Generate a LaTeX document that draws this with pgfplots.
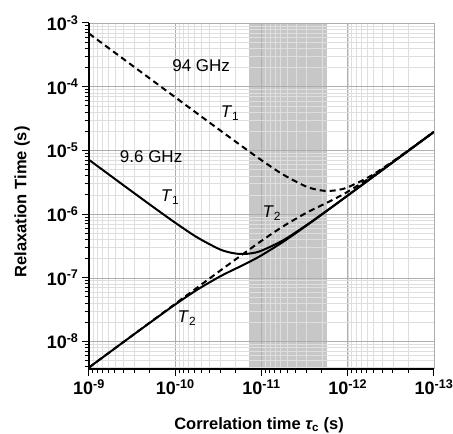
\documentclass[border=0pt]{standalone}
\usepackage{fontspec}
\setmainfont{Liberation Sans}
\usepackage{pgfplots}
\pgfplotsset{compat=1.18}
\begin{document}
\begin{tikzpicture}
\begin{axis}[
  set layers,
  scale only axis, width=345pt, height=346pt,
  xmode=log, ymode=log, x dir=reverse,
  xmin=1e-13, xmax=1e-9, ymin=3.7e-9, ymax=1e-3,
  axis x line*=bottom, axis y line*=left,
  axis line style={line width=1.3pt, -},
  grid=both,
  major grid style={black!32, line width=0.5pt},
  minor grid style={black!13, line width=0.45pt},
  tick align=outside,
  major tick length=7pt, minor tick length=4.5pt,
  every tick/.style={black, line width=1pt},
  log number format basis/.code 2 args={10\textsuperscript{\pgfmathprintnumber[assume math mode=true]{#2}}},
  ticklabel style={font=\fontsize{18}{21}\selectfont\bfseries},
  xlabel={Correlation time {\itshape τ}\textsubscript{c} (s)},
  ylabel={Relaxation Time (s)},
  xlabel style={at={(axis description cs:0.493,-0.174)}, anchor=base, font=\fontsize{16.5}{20}\selectfont\bfseries},
  ylabel style={at={(axis description cs:-0.194,0.483)}, anchor=center, font=\fontsize{16.5}{20}\selectfont\bfseries},
]
% shaded region
\addplot[fill=black!22, draw=none, on layer=axis background] coordinates {(1.41e-11,3.7e-9) (1.74e-12,3.7e-9) (1.74e-12,1e-3) (1.41e-11,1e-3)} -- cycle;
% 9.6 GHz T1
\addplot[black, line width=2pt, smooth] coordinates {
(1e-9,7.112e-6) (5.623e-10,4.000e-6) (3.162e-10,2.254e-6) (1.778e-10,1.276e-6)
(1e-10,7.311e-7) (5.623e-11,4.345e-7) (3.162e-11,2.864e-7) (2.371e-11,2.512e-7)
(1.778e-11,2.366e-7) (1.334e-11,2.415e-7) (1e-11,2.667e-7) (5.623e-12,3.873e-7)
(3.162e-12,6.412e-7) (1.778e-12,1.112e-6) (1e-12,1.963e-6) (3.162e-13,6.180e-6) (1e-13,1.954e-5)};
% 9.6 GHz T2
\addplot[black, line width=2pt, smooth] coordinates {
(1e-9,3.908e-9) (5.623e-10,6.950e-9) (3.162e-10,1.233e-8) (1.778e-10,2.178e-8)
(1e-10,3.811e-8) (5.623e-11,6.442e-8) (3.162e-11,1.016e-7) (2.371e-11,1.242e-7)
(1.778e-11,1.500e-7) (1.334e-11,1.824e-7) (1e-11,2.254e-7) (5.623e-12,3.664e-7)
(3.162e-12,6.295e-7) (1.778e-12,1.104e-6) (1e-12,1.959e-6) (3.162e-13,6.180e-6) (1e-13,1.954e-5)};
% 94 GHz T1
\addplot[black, line width=2pt, dash pattern=on 6pt off 4pt, smooth] coordinates {
(1e-9,6.823e-4) (3.162e-10,2.158e-4) (1e-10,6.823e-5) (5.623e-11,3.837e-5)
(3.162e-11,2.163e-5) (1.778e-11,1.225e-5) (1e-11,7.015e-6) (5.623e-12,4.178e-6)
(3.162e-12,2.773e-6) (2.371e-12,2.443e-6) (1.778e-12,2.312e-6) (1.334e-12,2.377e-6)
(1e-12,2.636e-6) (5.623e-13,3.855e-6) (3.162e-13,6.397e-6) (1.778e-13,1.112e-5) (1e-13,1.961e-5)};
% 94 GHz T2
\addplot[black, line width=2pt, dash pattern=on 6pt off 4pt, smooth] coordinates {
(1e-9,3.908e-9) (3.162e-10,1.236e-8) (1e-10,3.908e-8) (3.162e-11,1.233e-7)
(1.778e-11,2.178e-7) (1e-11,3.802e-7) (5.623e-12,6.412e-7) (3.162e-12,1.012e-6)
(2.371e-12,1.233e-6) (1.778e-12,1.489e-6) (1.334e-12,1.811e-6) (1e-12,2.244e-6)
(5.623e-13,3.656e-6) (3.162e-13,6.281e-6) (1.778e-13,1.104e-5) (1e-13,1.959e-5)};
% annotations
\node[font=\fontsize{17}{20}\selectfont] at (rel axis cs:0.325,0.876) {94 GHz};
\node[font=\fontsize{17}{20}\selectfont] at (rel axis cs:0.409,0.740) {\textit{T}\textsubscript{1}};
\node[font=\fontsize{17}{20}\selectfont] at (rel axis cs:0.180,0.613) {9.6 GHz};
\node[font=\fontsize{17}{20}\selectfont] at (rel axis cs:0.235,0.497) {\textit{T}\textsubscript{1}};
\node[font=\fontsize{17}{20}\selectfont] at (rel axis cs:0.530,0.451) {\textit{T}\textsubscript{2}};
\node[font=\fontsize{17}{20}\selectfont] at (rel axis cs:0.284,0.147) {\textit{T}\textsubscript{2}};
\end{axis}
\pgfresetboundingbox
\path (-89pt,-65pt) rectangle (364pt,369pt);
\end{tikzpicture}
\end{document}
